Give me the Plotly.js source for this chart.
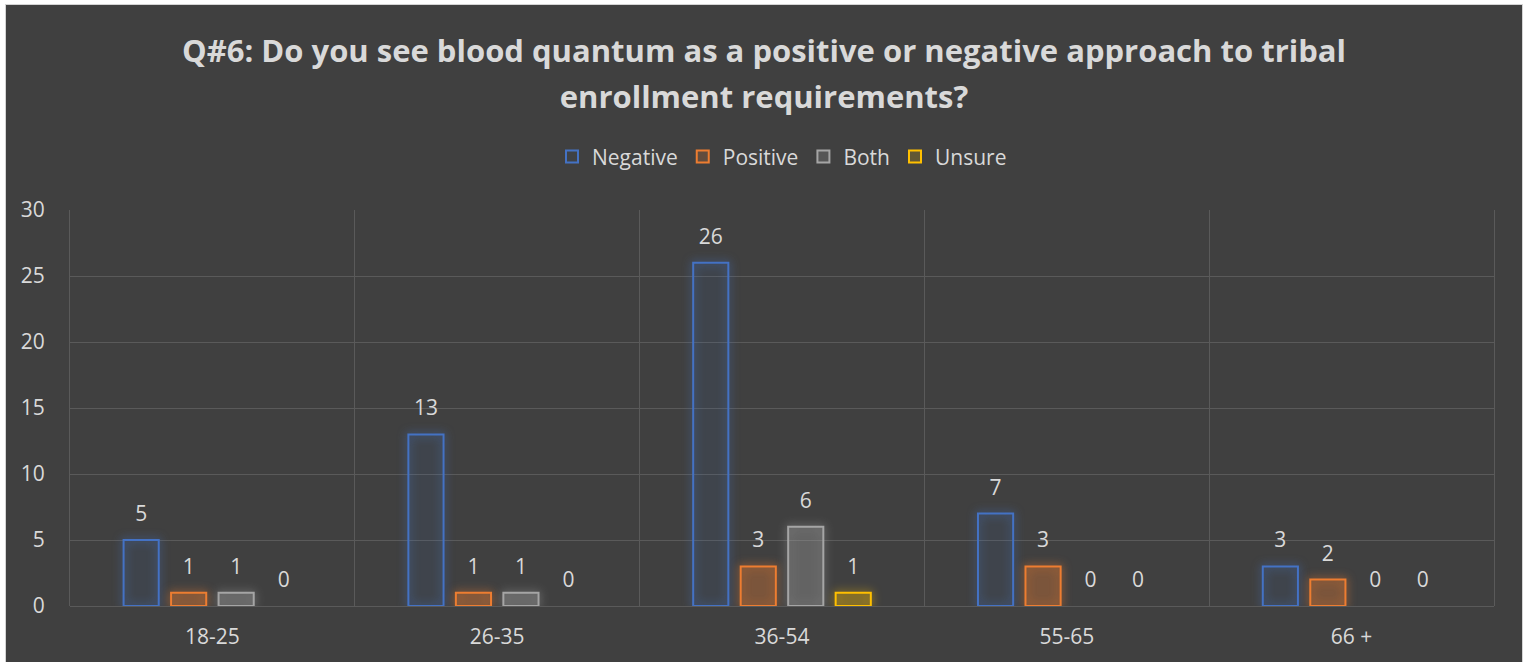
<!DOCTYPE html>
<html>
<head>
<meta charset="utf-8">
<script src="https://cdn.plot.ly/plotly-3.0.1.min.js"></script>
<style>
  html, body { margin: 0; padding: 0; background: #ffffff; }
  #chart { position: absolute; left: 5px; top: 4px; width: 1516px; height: 658px;
           border: 1px solid #d4d4d4; border-bottom: none; background: #404040; }
</style>
</head>
<body>
<div id="chart"></div>
<script>
const categories = ['18-25', '26-35', '36-54', '55-65', '66 +'];
const seriesNames = ['Negative', 'Positive', 'Both', 'Unsure'];
const negative = [5, 13, 26, 7, 3];
const positive = [1, 1, 3, 3, 2];
const both = [1, 1, 6, 0, 0];
const unsure = [0, 0, 1, 0, 0];
const yTicks = [0, 5, 10, 15, 20, 25, 30];
const titleLines = ['Q#6: Do you see blood quantum as a positive or negative approach to tribal', 'enrollment requirements?'];

const lineColors = ['#4472C4', '#ED7D31', '#A5A5A5', '#FFC000'];
const fillColors = ['rgba(68,114,196,0.05)', 'rgba(237,125,49,0.2)', 'rgba(165,165,165,0.22)', 'rgba(255,192,0,0.18)'];
const glowColors = ['rgba(68,114,196,0.9)', 'rgba(237,125,49,0.9)', 'rgba(165,165,165,0.8)', 'rgba(255,192,0,0.8)'];
const values = [negative, positive, both, unsure];

const FONT = '"Open Sans", "Noto Sans", sans-serif';
const TXT = '#d9d9d9';

const traces = values.map((v, i) => ({
  type: 'bar',
  name: seriesNames[i],
  x: categories,
  y: v,
  marker: { color: fillColors[i], line: { color: lineColors[i], width: 2 } },
  texttemplate: '<span style="font-size:21px">%{y}</span><br> ',
  textposition: 'outside',
  textfont: { family: FONT, size: 10, color: TXT },
  cliponaxis: false,
  hoverinfo: 'x+y+name'
}));

const layout = {
  width: 1516,
  height: 657,
  paper_bgcolor: '#404040',
  plot_bgcolor: '#404040',
  margin: { l: 64, r: 28, t: 205, b: 56 },
  font: { family: FONT, color: TXT, size: 21 },
  title: {
    text: titleLines.map(s => '<span style="font-size:31px">' + s + '</span>').join('<br>'),
    font: { family: FONT, size: 36, color: TXT, weight: 'bold' },
    x: 0.5, xanchor: 'center', xref: 'container',
    y: 0.914, yanchor: 'middle', yref: 'container'
  },
  barmode: 'group',
  bargap: 0.333,
  bargroupgap: 0.26,
  showlegend: true,
  legend: {
    orientation: 'h', x: 0.5, xanchor: 'center', y: 1.134, yanchor: 'middle',
    font: { family: FONT, size: 21, color: TXT },
    bgcolor: 'rgba(0,0,0,0)', itemwidth: 30, traceorder: 'normal'
  },
  xaxis: {
    type: 'category',
    tickson: 'boundaries',
    showgrid: true, gridcolor: '#5a5a5a', gridwidth: 1,
    ticks: '', showline: false, zeroline: false,
    tickfont: { family: FONT, size: 21, color: TXT },
    ticklabelstandoff: 16,
    fixedrange: true
  },
  yaxis: {
    range: [0, 30],
    tickvals: yTicks,
    showgrid: true, gridcolor: '#5a5a5a', gridwidth: 1,
    zeroline: true, zerolinecolor: '#5a5a5a', zerolinewidth: 1,
    showline: true, linecolor: '#5a5a5a', linewidth: 1, mirror: true,
    ticks: '',
    tickfont: { family: FONT, size: 21, color: TXT },
    ticklabelstandoff: 20,
    fixedrange: true
  }
};

Plotly.newPlot('chart', traces, layout, { displayModeBar: false, staticPlot: true }).then(gd => {
  const groups = gd.querySelectorAll('.barlayer .trace');
  groups.forEach((g, i) => {
    const vals = values[i];
    g.querySelectorAll('.point').forEach((pt, j) => {
      const p = pt.querySelector('path');
      if (!p) return;
      if (vals[j] === 0) {
        p.style.strokeWidth = '0px';
        p.style.fillOpacity = '0';
      } else {
        p.style.filter = 'drop-shadow(0 0 5px ' + glowColors[i % glowColors.length] + ')';
      }
    });
  });
});
</script>
</body>
</html>
